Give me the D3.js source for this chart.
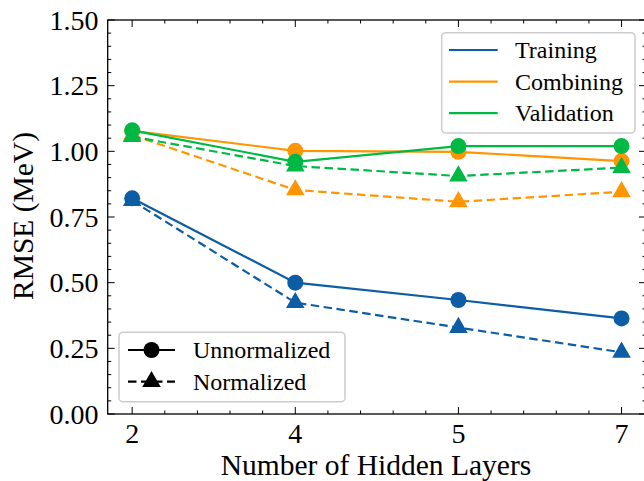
<!DOCTYPE html>
<html>
<head>
<meta charset="utf-8">
<script src="https://cdn.jsdelivr.net/npm/d3@7"></script>
<style>
  html, body { margin: 0; padding: 0; background: #fff; }
  svg { display: block; }
  text { font-family: "Liberation Serif", "DejaVu Serif", serif; fill: #000; }
</style>
</head>
<body>
<svg id="chart" width="644" height="481"></svg>
<script>
// ---- data ----
const layers = ["2", "4", "5", "7"];
const seriesNames = ["Training", "Combining", "Validation"];
const colors = ["#0C5DA5", "#FF9500", "#00B945"];
const trainingUnnorm   = [0.821, 0.500, 0.434, 0.364];
const trainingNorm     = [0.812, 0.424, 0.329, 0.235];
const combiningUnnorm  = [1.078, 1.002, 0.998, 0.963];
const combiningNorm    = [1.062, 0.853, 0.808, 0.846];
const validationUnnorm = [1.080, 0.960, 1.020, 1.020];
const validationNorm   = [1.056, 0.944, 0.906, 0.938];
const yTicks = [0, 0.25, 0.5, 0.75, 1.0, 1.25, 1.5];
const styleNames = ["Unnormalized", "Normalized"];

const lines = [
  { name: "Training", color: 0, norm: false, values: trainingUnnorm },
  { name: "Training", color: 0, norm: true,  values: trainingNorm },
  { name: "Combining", color: 1, norm: false, values: combiningUnnorm },
  { name: "Combining", color: 1, norm: true,  values: combiningNorm },
  { name: "Validation", color: 2, norm: false, values: validationUnnorm },
  { name: "Validation", color: 2, norm: true,  values: validationNorm }
];

// ---- layout ----
const svg = d3.select("#chart");
const L = 107.7, R = 646, T = 20, B = 414;
const x = d3.scaleLinear().domain([-0.15, layers.length - 1 + 0.15]).range([L, R]);
const y = d3.scaleLinear().domain([0, 1.5]).range([B, T]);

const axisColor = "#000";
// ticks (inside, all four sides)
const g = svg.append("g");
const yMinor = d3.range(0, 1.5001, 0.05);
yMinor.forEach(v => {
  const major = Math.abs(v / 0.25 - Math.round(v / 0.25)) < 1e-6;
  const len = major ? 7 : 3.5;
  g.append("line").attr("x1", L).attr("x2", L + len).attr("y1", y(v)).attr("y2", y(v)).attr("stroke", axisColor).attr("stroke-width", 1);
  g.append("line").attr("x1", R).attr("x2", R - len).attr("y1", y(v)).attr("y2", y(v)).attr("stroke", axisColor).attr("stroke-width", 1);
});
const xMinor = d3.range(-0.2, layers.length - 1 + 0.2001, 0.2).filter(v => v >= -0.15 && v <= 3.15);
xMinor.forEach(v => {
  const major = Math.abs(v - Math.round(v)) < 1e-6;
  const len = major ? 7 : 3.5;
  g.append("line").attr("x1", x(v)).attr("x2", x(v)).attr("y1", B).attr("y2", B - len).attr("stroke", axisColor).attr("stroke-width", 1);
  g.append("line").attr("x1", x(v)).attr("x2", x(v)).attr("y1", T).attr("y2", T + len).attr("stroke", axisColor).attr("stroke-width", 1);
});

// y tick labels
yTicks.forEach(v => {
  svg.append("text").attr("x", 98.5).attr("y", y(v)).attr("dy", "0.34em")
    .attr("text-anchor", "end").attr("font-size", 28).text(v.toFixed(2));
});
// x tick labels
layers.forEach((lab, i) => {
  svg.append("text").attr("x", x(i)).attr("y", 443).attr("text-anchor", "middle")
    .attr("font-size", 28).text(lab);
});

// axis labels
svg.append("text").attr("x", 376).attr("y", 475).attr("text-anchor", "middle")
  .attr("font-size", 29.5).text("Number of Hidden Layers");
svg.append("text").attr("transform", "translate(33,216) rotate(-90)").attr("text-anchor", "middle")
  .attr("font-size", 29.5).text("RMSE (MeV)");

// data lines
const lineGen = d3.line().x((d, i) => x(i)).y(d => y(d));
const tri = d3.symbol().type(d3.symbolTriangle).size(150);
lines.forEach(s => {
  const c = colors[s.color];
  svg.append("path").datum(s.values).attr("d", lineGen).attr("fill", "none")
    .attr("stroke", c).attr("stroke-width", 2.2)
    .attr("stroke-dasharray", s.norm ? "8.5,4.5" : null);
  s.values.forEach((v, i) => {
    if (s.norm) {
      svg.append("path").attr("d", tri).attr("transform", `translate(${x(i)},${y(v)})`).attr("fill", c);
    } else {
      svg.append("circle").attr("cx", x(i)).attr("cy", y(v)).attr("r", 8).attr("fill", c);
    }
  });
});

// spines
svg.append("rect").attr("x", L).attr("y", T).attr("width", R - L).attr("height", B - T)
  .attr("fill", "none").attr("stroke", axisColor).attr("stroke-width", 1.3);

// legend 1 (colors)
const lg1 = svg.append("g");
lg1.append("rect").attr("x", 441.7).attr("y", 32.7).attr("width", 193.3).attr("height", 100.3)
  .attr("rx", 4).attr("fill", "#fff").attr("fill-opacity", 0.8).attr("stroke", "#cccccc").attr("stroke-width", 1.5);
seriesNames.forEach((n, i) => {
  const yy = 50 + i * 31.6;
  lg1.append("line").attr("x1", 449).attr("x2", 497.7).attr("y1", yy).attr("y2", yy)
    .attr("stroke", colors[i]).attr("stroke-width", 2.2);
  lg1.append("text").attr("x", 515).attr("y", yy).attr("dy", "0.33em").attr("font-size", 24).text(n);
});

// legend 2 (styles)
const lg2 = svg.append("g");
lg2.append("rect").attr("x", 119).attr("y", 332.3).attr("width", 226).attr("height", 69.4)
  .attr("rx", 4).attr("fill", "#fff").attr("fill-opacity", 0.8).attr("stroke", "#cccccc").attr("stroke-width", 1.5);
styleNames.forEach((n, i) => {
  const yy = 350 + i * 31.7;
  lg2.append("line").attr("x1", 128).attr("x2", 175).attr("y1", yy).attr("y2", yy)
    .attr("stroke", "#000").attr("stroke-width", 2.2).attr("stroke-dasharray", i === 1 ? "8.5,4.5" : null);
  if (i === 0) {
    lg2.append("circle").attr("cx", 151.5).attr("cy", yy).attr("r", 8).attr("fill", "#000");
  } else {
    lg2.append("path").attr("d", tri).attr("transform", `translate(151.5,${yy})`).attr("fill", "#000");
  }
  lg2.append("text").attr("x", 193).attr("y", yy).attr("dy", "0.33em").attr("font-size", 24).text(n);
});
</script>
</body>
</html>
